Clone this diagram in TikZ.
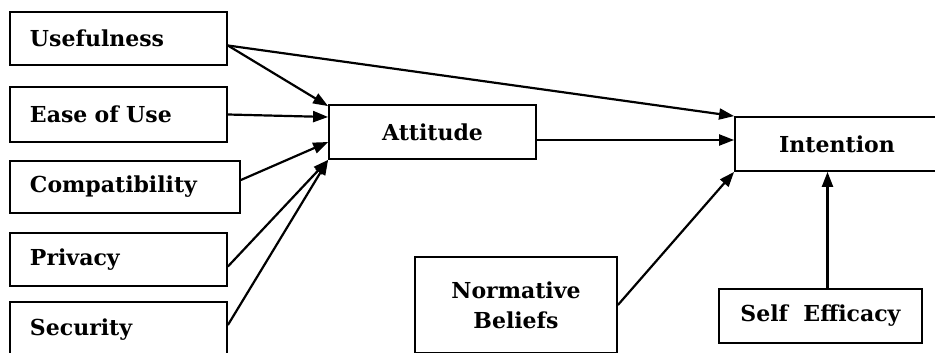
\documentclass[tikz,border=0pt]{standalone}
\usepackage{fontspec}
\setmainfont{DejaVu Serif}
\usetikzlibrary{arrows.meta}
\begin{document}
\begin{tikzpicture}[x=1pt,y=-1pt,
  box/.style={draw, line width=1.8pt, inner sep=0pt, font=\fontsize{22}{30}\selectfont\bfseries, align=center},
  lbox/.style={box, inner xsep=20pt, align=left},
  arr/.style={line width=2.2pt, -{Triangle[length=15pt,width=11pt]}}]
\useasboundingbox (0,0) rectangle (935,353);
\clip (0,0) rectangle (935,353);
\fill[white] (0,0) rectangle (935,353);
\node[lbox, text width=177pt, minimum height=53pt] (use) at (118.5,38.5) {Usefulness};
\node[lbox, text width=177pt, minimum height=55pt] (ease) at (118.5,114.5) {Ease of Use};
\node[lbox, text width=190pt, minimum height=52pt] (comp) at (125,187) {Compatibility};
\node[lbox, text width=177pt, minimum height=53pt] (priv) at (118.5,259.5) {Privacy};
\node[lbox, text width=177pt, minimum height=56pt] (sec) at (118.5,330) {Security};
\node[box, minimum width=207pt, minimum height=54pt] (att) at (432.5,132) {Attitude};
\node[box, minimum width=204pt, minimum height=54pt] (int) at (837,144) {Intention};
\node[box, minimum width=202pt, minimum height=96pt] (norm) at (516,305) {Normative\\Beliefs};
\node[box, minimum width=203pt, minimum height=54pt] (self) at (820.5,316) {Self\ \ Efficacy};
\draw[arr] ([yshift=-7pt]use.east) -- ([yshift=-2pt]att.north west);
\draw[arr] ([yshift=-7pt]use.east) -- (int.north west);
\draw[arr] (ease.east) -- ([yshift=15pt]att.west);
\draw[arr] ([yshift=7pt]comp.east) -- ([yshift=-10pt]att.west);
\draw[arr] ([yshift=-7pt]priv.east) -- (att.south west);
\draw[arr] ([yshift=5pt]sec.east) -- (att.south west);
\draw[arr] ([yshift=-8pt]att.east) -- ([yshift=4pt]int.west);
\draw[arr] (norm.east) -- (int.south west);
\draw[arr] ([xshift=7pt]self.north) -- ([xshift=7pt]self.north |- int.south);
\end{tikzpicture}
\end{document}
